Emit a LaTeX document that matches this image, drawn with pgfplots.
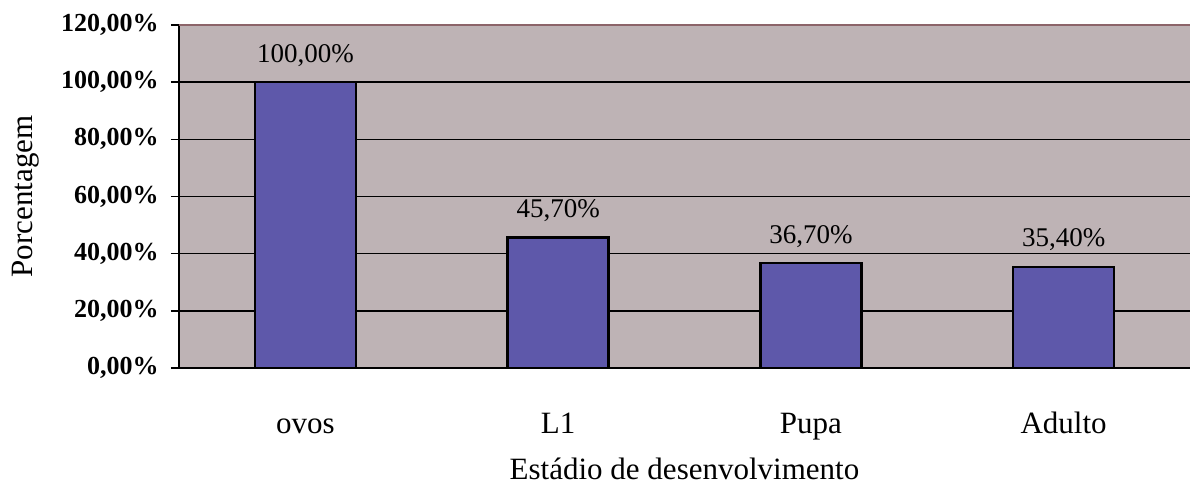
\documentclass[border=0pt]{standalone}
\usepackage{pgfplots}
\pgfplotsset{compat=1.18}
\usepackage{fontspec}
\setmainfont{Liberation Serif}
\definecolor{plotbg}{RGB}{190,179,181}
\definecolor{barfill}{RGB}{94,88,170}
\definecolor{topline}{RGB}{140,100,105}
\begin{document}
\begin{tikzpicture}
\path[use as bounding box] (-89.5pt,-57.5pt) rectangle (505.5pt,184pt);
\begin{axis}[
  at={(0,0)}, anchor=south west,
  scale only axis,
  width=505.5pt, height=171.5pt,
  xmin=-0.5, xmax=3.5,
  ymin=0, ymax=120,
  axis x line*=bottom, axis y line*=left,
  axis line style={black, line width=0.8pt},
  axis background/.style={fill=plotbg},
  xtick={0,1,2,3},
  xticklabels={ovos, L1, Pupa, Adulto},
  x tick style={draw=none},
  extra x ticks={-0.5,0.5,1.5,2.5,3.5},
  extra x tick labels={},
  extra x tick style={tick style={black, line width=0.8pt, draw=black}, major tick length=4pt},
  ytick={0,20,...,120},
  y tick style={black, line width=0.8pt},
  tick align=outside, major tick length=4pt,
  ymajorgrids,
  grid style={black, line width=0.7pt},
  /pgf/number format/assume math mode=true,
  yticklabel={\pgfmathprintnumber[fixed,fixed zerofill,precision=2,use comma]{\tick}\%},
  yticklabel style={font=\fontsize{13}{15}\selectfont\bfseries, anchor=east, inner sep=0pt, xshift=-6pt},
  xticklabel style={font=\fontsize{15.5}{17}\selectfont, anchor=base, inner sep=0pt, yshift=-28.5pt},
  xlabel={Estádio de desenvolvimento},
  ylabel={Porcentagem},
  xlabel style={font=\fontsize{15.5}{17}\selectfont, at={(axis description cs:0.5,0)}, anchor=base, yshift=-55.5pt},
  ylabel style={font=\fontsize{15.5}{17}\selectfont, at={(axis description cs:0,0.5)}, anchor=center, yshift=76.5pt},
  ybar, bar width=0.4,
  nodes near coords={\pgfmathprintnumber[fixed,fixed zerofill,precision=2,use comma]{\pgfplotspointmeta}\%},
  nodes near coords style={font=\fontsize{13.5}{15}\selectfont, anchor=base, inner sep=0pt, yshift=10pt},
  clip=false,
  after end axis/.code={\draw[topline, line width=0.6pt] (rel axis cs:0,1) -- (rel axis cs:1,1);},
]
\addplot[fill=barfill, draw=black, line width=1.2pt] coordinates {(0,100) (1,45.7) (2,36.7) (3,35.4)};
\end{axis}
\end{tikzpicture}
\end{document}
